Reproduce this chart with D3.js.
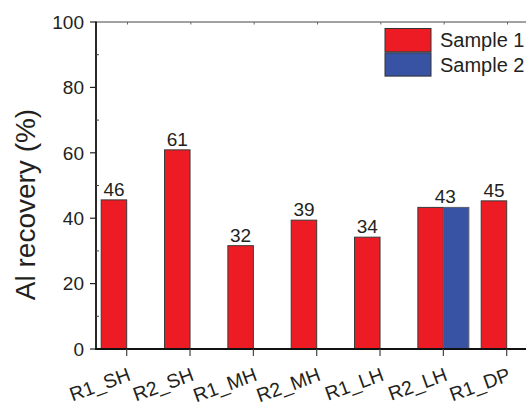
<!DOCTYPE html>
<html>
<head>
<meta charset="utf-8">
<script src="https://cdn.jsdelivr.net/npm/d3@7"></script>
<style>
  body { margin: 0; background: #fff; }
  text { font-family: "Liberation Sans", Arial, sans-serif; fill: #231f20; }
</style>
</head>
<body>
<div id="wrapper"></div>
<script>
// data
const categories = ["R1_SH", "R2_SH", "R1_MH", "R2_MH", "R1_LH", "R2_LH", "R1_DP"];
const sample1 = [45.6, 60.9, 31.6, 39.4, 34.2, 43.3, 45.3];
const sample2 = [null, null, null, null, null, 43.3, null];
const valueLabels = ["46", "61", "32", "39", "34", "43", "45"];
const seriesNames = ["Sample 1", "Sample 2"];
const seriesColors = ["#ed1c24", "#3953a4"];
const yTicks = [0, 20, 40, 60, 80, 100];
const yMinorTicks = [10, 30, 50, 70, 90];

const width = 526, height = 407;
const plot = { left: 96, right: 537, top: 22, bottom: 349 };

const svg = d3.select("#wrapper").append("svg")
  .attr("width", width)
  .attr("height", height);

// scales
const x = d3.scalePoint()
  .domain(categories)
  .range([126.7, 506.7]);
const y = d3.scaleLinear()
  .domain([0, 100])
  .range([plot.bottom, plot.top]);
const barW = 25.5;

// bars
const rows = categories.map((c, i) => ({ cat: c, s1: sample1[i], s2: sample2[i], label: valueLabels[i] }));

svg.selectAll(".bar1")
  .data(rows.filter(d => d.s1 != null))
  .enter().append("rect")
  .attr("x", d => x(d.cat) - barW)
  .attr("y", d => y(d.s1))
  .attr("width", barW)
  .attr("height", d => y(0) - y(d.s1))
  .attr("fill", seriesColors[0])
  .attr("stroke", "#3a3a3a")
  .attr("stroke-width", 1);

svg.selectAll(".bar2")
  .data(rows.filter(d => d.s2 != null))
  .enter().append("rect")
  .attr("x", d => x(d.cat))
  .attr("y", d => y(d.s2))
  .attr("width", barW)
  .attr("height", d => y(0) - y(d.s2))
  .attr("fill", seriesColors[1])
  .attr("stroke", "#5a5f70")
  .attr("stroke-width", 1);

// value labels
svg.selectAll(".vlabel")
  .data(rows)
  .enter().append("text")
  .attr("x", d => d.s2 != null ? x(d.cat) + 2 : x(d.cat) - barW / 2)
  .attr("y", d => y(Math.max(d.s1, d.s2 || 0)) - 4)
  .attr("text-anchor", "middle")
  .attr("font-size", 19)
  .text(d => d.label);

// axes frame
svg.append("line")
  .attr("x1", plot.left).attr("x2", plot.right)
  .attr("y1", plot.top).attr("y2", plot.top)
  .attr("stroke", "#444").attr("stroke-width", 1);
svg.append("line")
  .attr("x1", plot.left).attr("x2", plot.left)
  .attr("y1", plot.top - 0.5).attr("y2", plot.bottom + 1)
  .attr("stroke", "#111").attr("stroke-width", 1.8);
svg.append("line")
  .attr("x1", plot.left - 1).attr("x2", plot.right)
  .attr("y1", plot.bottom).attr("y2", plot.bottom)
  .attr("stroke", "#111").attr("stroke-width", 2);

// left ticks
svg.selectAll(".ytick")
  .data(yTicks)
  .enter().append("line")
  .attr("x1", plot.left - 6).attr("x2", plot.left)
  .attr("y1", d => y(d)).attr("y2", d => y(d))
  .attr("stroke", "#222").attr("stroke-width", 1.2);
svg.selectAll(".yminor")
  .data(yMinorTicks)
  .enter().append("line")
  .attr("x1", plot.left).attr("x2", plot.left + 3)
  .attr("y1", d => y(d)).attr("y2", d => y(d))
  .attr("stroke", "#444").attr("stroke-width", 1);
svg.selectAll(".ylabel")
  .data(yTicks)
  .enter().append("text")
  .attr("x", plot.left - 12)
  .attr("y", d => y(d) + 6.8)
  .attr("text-anchor", "end")
  .attr("font-size", 19)
  .text(d => d);

// bottom ticks and top ticks
svg.selectAll(".xtick")
  .data(categories)
  .enter().append("line")
  .attr("x1", d => x(d)).attr("x2", d => x(d))
  .attr("y1", plot.bottom).attr("y2", plot.bottom + 7)
  .attr("stroke", "#444").attr("stroke-width", 1.2);
svg.selectAll(".xtop")
  .data(categories)
  .enter().append("line")
  .attr("x1", d => x(d) + 0.8).attr("x2", d => x(d) + 0.8)
  .attr("y1", plot.top).attr("y2", plot.top + 2.5)
  .attr("stroke", "#666").attr("stroke-width", 1);

svg.selectAll(".xlabel")
  .data(categories)
  .enter().append("text")
  .attr("transform", d => `translate(${x(d) + 5}, 380) rotate(-20)`)
  .attr("text-anchor", "end")
  .attr("font-size", 19.5)
  .text(d => d);

// y axis title
svg.append("text")
  .attr("transform", `translate(35, 204.5) rotate(-90)`)
  .attr("text-anchor", "middle")
  .attr("font-size", 28)
  .text("Al recovery (%)");

// legend
const legend = svg.append("g")
  .attr("transform", "translate(385, 28.5)");
legend.selectAll("rect")
  .data(seriesNames)
  .enter().append("rect")
  .attr("x", 0)
  .attr("y", (d, i) => i * 24.3)
  .attr("width", 46)
  .attr("height", 23.3)
  .attr("fill", (d, i) => seriesColors[i])
  .attr("stroke", "#333")
  .attr("stroke-width", 1);
legend.selectAll("text")
  .data(seriesNames)
  .enter().append("text")
  .attr("x", 55)
  .attr("y", (d, i) => 18.5 + i * 24.5)
  .attr("font-size", 20)
  .text(d => d);
</script>
</body>
</html>
